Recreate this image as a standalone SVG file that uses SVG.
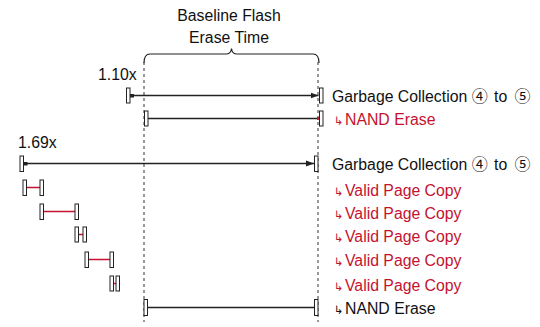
<svg xmlns="http://www.w3.org/2000/svg" width="540" height="327" viewBox="0 0 540 327">
<defs>
<style>
text{font-family:"Liberation Sans",Arial,"DejaVu Sans",sans-serif;font-size:15.8px;fill:#111}
.red{fill:#c4122f}
.arr{font-family:"DejaVu Sans",sans-serif;font-size:11.5px}
.cd{font-family:"Noto Sans CJK JP","DejaVu Sans",sans-serif;font-size:16px}
.bar{fill:#fff;stroke:#222;stroke-width:1}
.bl{stroke:#222;stroke-width:1.5;fill:none}
.rl{stroke:#c4122f;stroke-width:1.5;fill:none}
.dash{stroke:#333;stroke-width:1;stroke-dasharray:3,3;fill:none}
</style>
<marker id="ah" viewBox="0 0 8 8" refX="8" refY="4" markerWidth="8" markerHeight="8" markerUnits="userSpaceOnUse" orient="auto"><path d="M0,1 L8,4 L0,7 Z" fill="#222"/></marker>
<marker id="sq" viewBox="0 0 4 4" refX="0" refY="2" markerWidth="4" markerHeight="4" markerUnits="userSpaceOnUse" orient="auto"><rect x="0" y="0" width="4" height="4" fill="#222"/></marker>
<marker id="rd" viewBox="0 0 4 4" refX="2" refY="2" markerWidth="3" markerHeight="3" markerUnits="userSpaceOnUse"><circle cx="2" cy="2" r="2" fill="#c4122f"/></marker>
</defs>

<g id="baseline-label">
<text x="229" y="21" text-anchor="middle">Baseline Flash</text>
<text x="229" y="42.5" text-anchor="middle">Erase Time</text>
<path d="M144,63 Q144,54 150,54 L226,54 Q231,54 231.5,48.5 Q232,54 237,54 L313,54 Q319,54 319,63" fill="none" stroke="#222" stroke-width="1.2"/>
</g>

<g id="connectors">
<line class="dash" x1="144" y1="62" x2="144" y2="322"/>
<line class="dash" x1="318" y1="62" x2="318" y2="322"/>
<line class="bl" x1="130" y1="95.5" x2="318.5" y2="95.5" marker-start="url(#sq)" marker-end="url(#ah)"/>
<line class="bl" x1="148" y1="118.5" x2="318" y2="118.5" marker-end="url(#rd)"/>
<line class="bl" x1="23.5" y1="163.5" x2="314" y2="163.5" marker-start="url(#sq)" marker-end="url(#ah)"/>
<line class="rl" x1="26.5" y1="187.5" x2="40" y2="187.5"/>
<line class="rl" x1="43.5" y1="211.5" x2="75" y2="211.5"/>
<line class="rl" x1="78.5" y1="234.5" x2="83" y2="234.5"/>
<line class="rl" x1="88.5" y1="259.5" x2="110" y2="259.5"/>
<line class="rl" x1="113.5" y1="283.5" x2="116" y2="283.5"/>
<line class="bl" x1="148" y1="307.5" x2="314.5" y2="307.5"/>
</g>

<g id="row1">
<text x="98" y="80">1.10x</text>
<rect class="bar" x="126.5" y="88" width="3.5" height="15"/>
<rect class="bar" x="319.5" y="88" width="3.5" height="15"/>
<text x="332" y="101.5">Garbage Collection <tspan class="cd">④</tspan><tspan dx="2"> to </tspan><tspan class="cd" dx="3">⑤</tspan></text>
</g>
<g id="row2">
<rect class="bar" x="144.5" y="111" width="3.5" height="15"/>
<rect class="bar" x="319.5" y="111" width="3.5" height="15"/>
<text class="red" x="334" y="124.5"><tspan class="arr red">↳</tspan><tspan x="345">NAND Erase</tspan></text>
</g>
<g id="row3">
<text x="18" y="147.5">1.69x</text>
<rect class="bar" x="20" y="156" width="3.5" height="15.5"/>
<rect class="bar" x="314.5" y="156" width="3.5" height="15.5"/>
<text x="332" y="169.5">Garbage Collection <tspan class="cd">④</tspan><tspan dx="2"> to </tspan><tspan class="cd" dx="3">⑤</tspan></text>
</g>
<g id="row4">
<rect class="bar" x="23" y="180" width="3.5" height="15.5"/>
<rect class="bar" x="40" y="180" width="3.5" height="15.5"/>
<text class="red" x="334" y="196"><tspan class="arr red">↳</tspan><tspan x="345">Valid Page Copy</tspan></text>
</g>
<g id="row5">
<rect class="bar" x="40" y="204" width="3.5" height="15.5"/>
<rect class="bar" x="75" y="204" width="3.5" height="15.5"/>
<text class="red" x="334" y="218.5"><tspan class="arr red">↳</tspan><tspan x="345">Valid Page Copy</tspan></text>
</g>
<g id="row6">
<rect class="bar" x="75" y="227" width="3.5" height="15"/>
<rect class="bar" x="83" y="227" width="3.5" height="15"/>
<text class="red" x="334" y="241.5"><tspan class="arr red">↳</tspan><tspan x="345">Valid Page Copy</tspan></text>
</g>
<g id="row7">
<rect class="bar" x="85" y="252" width="3.5" height="15.5"/>
<rect class="bar" x="110" y="252" width="3.5" height="15.5"/>
<text class="red" x="334" y="266"><tspan class="arr red">↳</tspan><tspan x="345">Valid Page Copy</tspan></text>
</g>
<g id="row8">
<rect class="bar" x="110" y="276" width="3.5" height="15"/>
<rect class="bar" x="116" y="276" width="3.5" height="15"/>
<text class="red" x="334" y="290.5"><tspan class="arr red">↳</tspan><tspan x="345">Valid Page Copy</tspan></text>
</g>
<g id="row9">
<rect class="bar" x="144" y="299.5" width="3.5" height="16"/>
<rect class="bar" x="314.5" y="299.5" width="3.5" height="16"/>
<text x="334" y="314"><tspan class="arr">↳</tspan><tspan x="345">NAND Erase</tspan></text>
</g>
</svg>
